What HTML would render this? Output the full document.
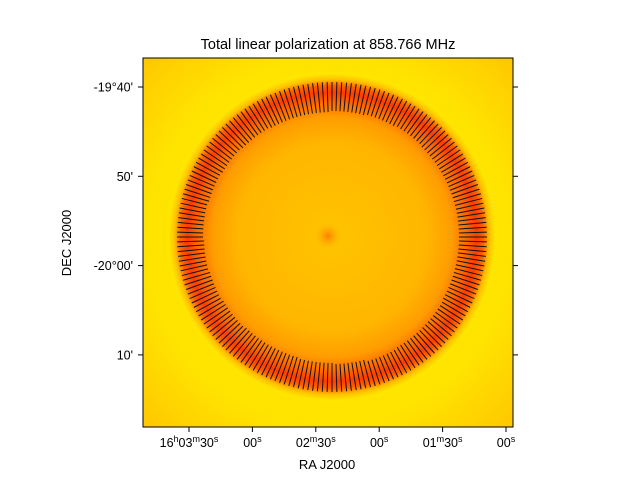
<!DOCTYPE html>
<html><head><meta charset="utf-8"><style>
body{margin:0;background:#fff;}
svg text{font-family:"Liberation Sans","DejaVu Sans",sans-serif;fill:#000;}
</style></head><body>
<svg width="640" height="480" viewBox="0 0 640 480">
<defs>
<radialGradient id="ringGrad" cx="0.5" cy="0.5" r="0.5">
<stop offset="0" stop-color="#ffc400"/>
<stop offset="0.55" stop-color="#ffb600"/>
<stop offset="0.7" stop-color="#ff9c00"/>
<stop offset="0.78" stop-color="#ff6a00"/>
<stop offset="0.84" stop-color="#ff3c00"/>
<stop offset="0.88" stop-color="#ff6000"/>
<stop offset="0.915" stop-color="#ffc000"/>
<stop offset="0.95" stop-color="#ffe600"/>
<stop offset="1" stop-color="#ffe000" stop-opacity="0"/>
</radialGradient>
<radialGradient id="blobGrad" cx="0.5" cy="0.5" r="0.5">
<stop offset="0" stop-color="#ff8000"/>
<stop offset="1" stop-color="#ffb600" stop-opacity="0"/>
</radialGradient>
<radialGradient id="bgGrad" cx="0.5" cy="0.5" r="0.7">
<stop offset="0" stop-color="#ffe600"/>
<stop offset="0.7" stop-color="#ffe400"/>
<stop offset="1" stop-color="#ffc800"/>
</radialGradient>
<clipPath id="plotClip"><rect x="143" y="58" width="370" height="369"/></clipPath>
</defs>
<text x="328" y="49" font-size="14.5" text-anchor="middle">Total linear polarization at 858.766 MHz</text>
<g clip-path="url(#plotClip)">
<rect x="143" y="58" width="370" height="369" fill="url(#bgGrad)"/>
<circle cx="332" cy="237" r="172" fill="url(#ringGrad)"/>
<circle cx="328" cy="236" r="14" fill="url(#blobGrad)"/>
<g id="vectors"></g>
</g>
<rect x="143" y="58" width="370" height="369" fill="none" stroke="#000" stroke-width="1"/>
<g id="axes"></g>
<text x="327" y="469" font-size="13" text-anchor="middle">RA J2000</text>
<text transform="translate(71,243) rotate(-90)" font-size="13" text-anchor="middle">DEC J2000</text>
</svg>
<script>
const xTickLabels=["16h03m30s","00s","02m30s","00s","01m30s","00s"];
const xTickValues=[0,1,2,3,4,5];
const yTickLabels=["-19°40'","50'","-20°00'","10'"];
const yTickValues=[0,1,2,3];
const vectorLengths=[28,28,27,27,26,28,29,30,30,29,28,27,26,27,28,29,30,30,29,28,27,28,28,28];
const vectorCount=200;
const ns="http://www.w3.org/2000/svg";
const xPix=v=>189+v*63.4;
const yPix=v=>87+v*89.3;
const ax=document.getElementById('axes');
function mk(t,a){const e=document.createElementNS(ns,t);for(const k in a)e.setAttribute(k,a[k]);return e;}
xTickValues.forEach((v,i)=>{
 const x=xPix(v);
 const l=mk('line',{x1:x,y1:427,x2:x,y2:432,stroke:'#000'});
 
 
 ax.appendChild(l);
 const t=mk('text',{x:x,y:447,'font-size':12.5,'text-anchor':'middle'});
 
 
 const parts=xTickLabels[i].match(/(\d+|[hms])/g);
 let up=false;
 parts.forEach(p=>{
  const s=document.createElementNS(ns,'tspan');
  if(/[hms]/.test(p)){s.setAttribute('font-size','9');s.setAttribute('dy','-5');up=true;}
  else{s.setAttribute('dy',up?'5':'0');up=false;}
  s.textContent=p;t.appendChild(s);
 });
 ax.appendChild(t);
});
yTickValues.forEach((v,i)=>{
 const y=yPix(v);
 [[138,143],[513,518]].forEach(p=>{
  const l=mk('line',{x1:p[0],y1:y,x2:p[1],y2:y,stroke:'#000'});
  
  
  ax.appendChild(l);
 });
 const t=mk('text',{x:133,y:y+4.5,'font-size':12.5,'text-anchor':'end'});
 
 
 t.textContent=yTickLabels[i];ax.appendChild(t);
});
const vg=document.getElementById('vectors');
const cx=332,cy=237,rOuter=155;
for(let k=0;k<vectorCount;k++){
 const a=k/vectorCount*2*Math.PI;
 const len=vectorLengths[Math.floor(k/vectorCount*vectorLengths.length)];
 const c=Math.cos(a),s=Math.sin(a);
 const l=mk('line',{x1:cx+c*rOuter,y1:cy+s*rOuter,x2:cx+c*(rOuter-len),y2:cy+s*(rOuter-len),stroke:'#111','stroke-width':1});
 
 
 vg.appendChild(l);
}
</script>
</body></html>
